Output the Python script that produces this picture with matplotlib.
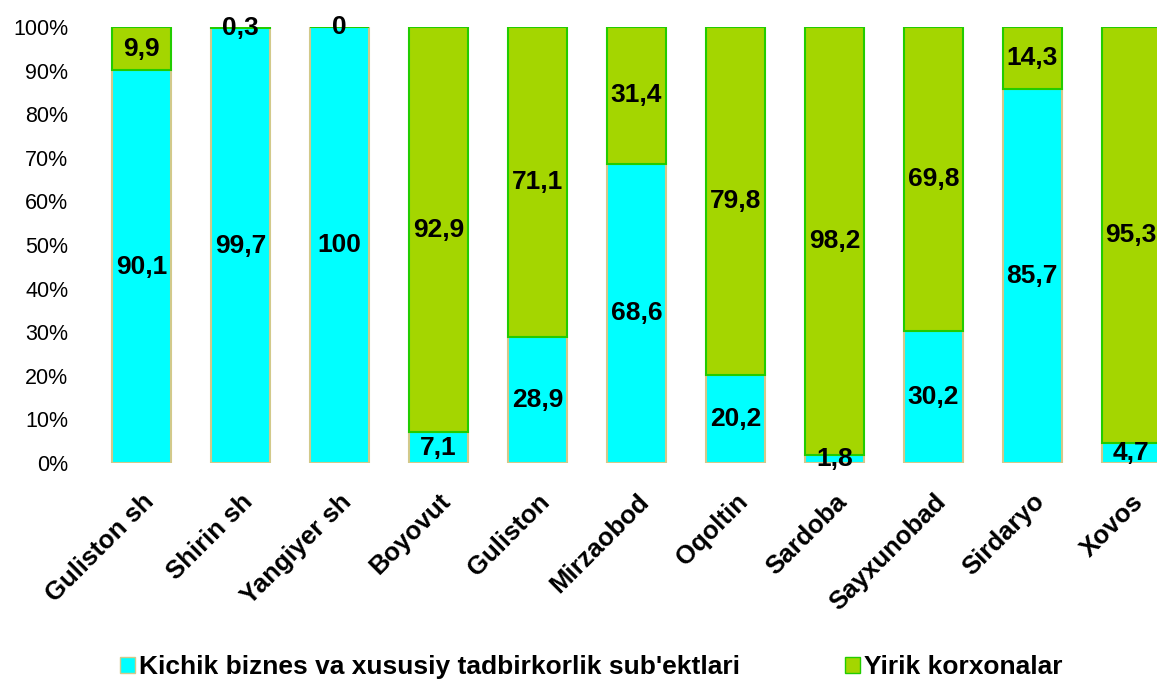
import matplotlib
matplotlib.use("Agg")
import matplotlib.pyplot as plt
from matplotlib.patches import Patch
from matplotlib.ticker import PercentFormatter
import numpy as np

categories = ["Guliston sh", "Shirin sh", "Yangiyer sh", "Boyovut", "Guliston",
              "Mirzaobod", "Oqoltin", "Sardoba", "Sayxunobad", "Sirdaryo", "Xovos"]
small_biz = [90.1, 99.7, 100, 7.1, 28.9, 68.6, 20.2, 1.8, 30.2, 85.7, 4.7]
large_ent = [9.9, 0.3, 0, 92.9, 71.1, 31.4, 79.8, 98.2, 69.8, 14.3, 95.3]
series_names = ["Kichik biznes va xususiy tadbirkorlik sub'ektlari", "Yirik korxonalar"]
yticks = [0, 10, 20, 30, 40, 50, 60, 70, 80, 90, 100]

def fmt(v):
    s = ("%.1f" % v).rstrip("0").rstrip(".")
    return s.replace(".", ",")

plt.rcParams['font.family'] = ['Liberation Sans', 'DejaVu Sans']

fig = plt.figure(figsize=(11.57, 6.86), dpi=100)
W, H = 1157, 686
left_px, right_px, top_px, bot_px = 92, 1157, 27, 463
ax = fig.add_axes([left_px / W, (H - bot_px) / H, (right_px - left_px) / W, (bot_px - top_px) / H])

x = np.arange(len(categories))
cyan = "#00FFFF"
green = "#A4D600"
bw = 0.6
ax.bar(x, small_biz, width=bw, color=cyan, edgecolor="#D2C98A", linewidth=1.5, zorder=2)
ax.bar(x, large_ent, width=bw, bottom=small_biz, color=green, edgecolor="#22CC00", linewidth=1.5, zorder=2)

for i in range(len(categories)):
    ax.text(x[i], small_biz[i] / 2, fmt(small_biz[i]), ha="center", va="center",
            fontsize=19, fontweight="bold", color="black", zorder=4, clip_on=False)
    ax.text(x[i], small_biz[i] + large_ent[i] / 2, fmt(large_ent[i]), ha="center", va="center",
            fontsize=19, fontweight="bold", color="black", zorder=4, clip_on=False)

ax.set_xlim(-0.5, 10.26)
ax.set_ylim(0, 100)
ax.set_yticks(yticks)
ax.yaxis.set_major_formatter(PercentFormatter(decimals=0))
ax.tick_params(axis="y", length=0, labelsize=15.5, pad=17)
ax.set_xticks(x)
ax.set_xticklabels(categories, rotation=45, ha="right", va="top", rotation_mode="anchor",
                   fontsize=18.5, fontweight="bold")
ax.tick_params(axis="x", length=0, pad=19)
for s in ax.spines.values():
    s.set_visible(False)

handles = [Patch(facecolor=cyan, edgecolor="#D2C98A"), Patch(facecolor=green, edgecolor="#22CC00")]
leg = fig.legend(handles, series_names, loc="center", bbox_to_anchor=(0.511, 1 - 667 / H), ncol=2,
                 frameon=False, prop={"weight": "bold", "size": 19}, handlelength=0.55, handleheight=0.55,
                 handletextpad=0.15, columnspacing=4.0)

fig.savefig("out.png", dpi=100)
